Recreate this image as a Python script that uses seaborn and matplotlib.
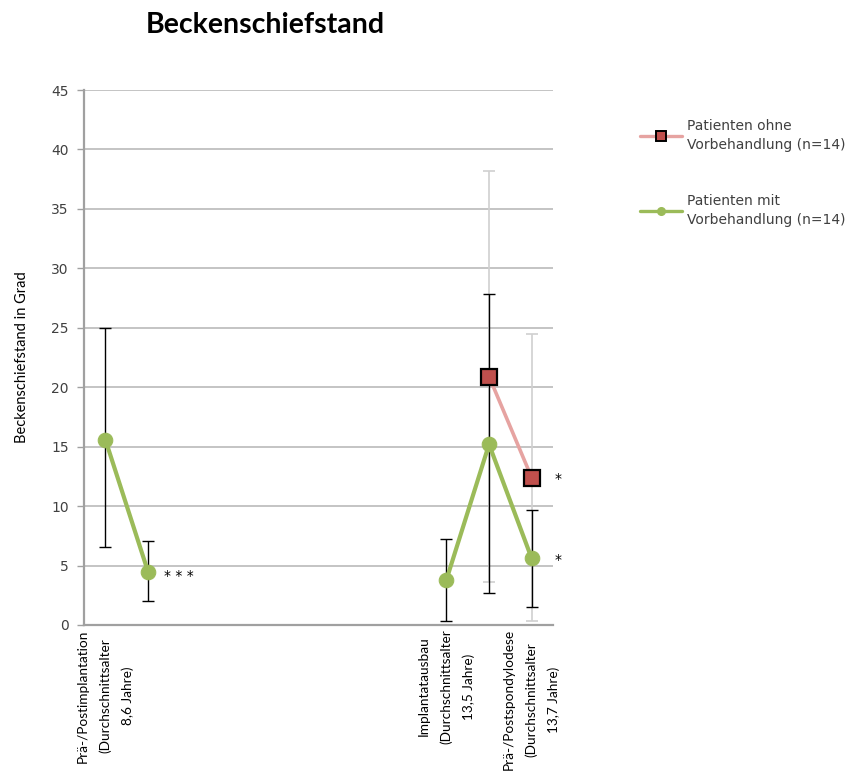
import matplotlib
matplotlib.use("Agg")
import matplotlib.pyplot as plt
from matplotlib.lines import Line2D
import numpy as np
import pandas as pd
import seaborn as sns

# Category slots along the x axis (11 slots, only three labelled)
n_slots = 11
tick_positions = [0, 8, 10]
tick_labels = [
    "Prä-/Postimplantation\n(Durchschnittsalter\n8,6 Jahre)",
    "Implantatausbau\n(Durchschnittsalter\n13,5 Jahre)",
    "Prä-/Postspondylodese\n(Durchschnittsalter\n13,7 Jahre)",
]

# Patienten mit Vorbehandlung
mit_x = [0, 1, 8, 9, 10]
mit_segment = [0, 0, 1, 1, 1]
mit_mean = [15.6, 4.5, 3.8, 15.2, 5.6]
mit_low = [6.6, 2.0, 0.35, 2.7, 1.55]
mit_high = [25.0, 7.1, 7.2, 27.8, 9.7]

# Patienten ohne Vorbehandlung
ohne_x = [9, 10]
ohne_segment = [0, 0]
ohne_mean = [20.9, 12.4]
ohne_low = [3.6, 0.3]
ohne_high = [38.2, 24.5]

# Significance markers: (x, y, text)
sig_marks = [(1, 4.5, "* * *"), (10, 12.4, "*"), (10, 5.6, "*")]
sig_offsets = [(11.5, -3.5), (16.5, -1), (16.5, -1)]

green = "#9BBB59"
red_line = "#E6A3A1"
red_fill = "#C0504D"
grid_col = "#BFBFBF"
text_col = "#404040"
narrow = ["Lato", "DejaVu Sans"]

sns.set_style("white")
plt.rcParams["font.family"] = ["DejaVu Sans"]

fig = plt.figure(figsize=(8.59, 7.73), dpi=100)
ax = fig.add_axes([84 / 859, 1 - 625 / 773, (553 - 84) / 859, (625 - 90) / 773])

mit_df = pd.DataFrame({"x": mit_x, "value": mit_mean, "segment": mit_segment})
ohne_df = pd.DataFrame({"x": ohne_x, "value": ohne_mean, "segment": ohne_segment})

# error bars: light grey for the untreated group, black for the treated group
ohne_m = np.array(ohne_mean)
ax.errorbar(ohne_x, ohne_m,
            yerr=[ohne_m - np.array(ohne_low), np.array(ohne_high) - ohne_m],
            fmt="none", ecolor="#D0D0D0", elinewidth=1.2, capsize=4.5,
            capthick=1.2, zorder=2)
mit_m = np.array(mit_mean)
ax.errorbar(mit_x, mit_m,
            yerr=[mit_m - np.array(mit_low), np.array(mit_high) - mit_m],
            fmt="none", ecolor="black", elinewidth=1.0, capsize=4.5,
            capthick=1.0, zorder=3)

sns.lineplot(data=ohne_df, x="x", y="value", units="segment", estimator=None,
             sort=False, color=red_line, lw=2.6, marker="s", markersize=11,
             markerfacecolor=red_fill, markeredgecolor="black",
             markeredgewidth=1.6, ax=ax, zorder=5, legend=False)
sns.lineplot(data=mit_df, x="x", y="value", units="segment", estimator=None,
             sort=False, color=green, lw=3.0, marker="o", markersize=10.5,
             markerfacecolor=green, markeredgecolor=green, ax=ax, zorder=6,
             legend=False)

for (x, y, s), off in zip(sig_marks, sig_offsets):
    ax.annotate(s, (x, y), xytext=off, textcoords="offset points",
                ha="left", va="center", fontsize=10, color="black")

ax.set_xlim(-0.5, n_slots - 0.5)
ax.set_ylim(0, 45)
ax.set_yticks(np.arange(0, 46, 5))
ax.yaxis.grid(True, color=grid_col, lw=1.3)
ax.xaxis.grid(False)
ax.set_axisbelow(True)
ax.tick_params(axis="y", direction="out", length=5, width=1, color="#A0A0A0",
               labelsize=10, labelcolor=text_col, pad=6, left=True)
ax.tick_params(axis="x", length=0, pad=3)
ax.set_xticks(tick_positions)
ax.set_xticklabels(tick_labels, rotation=90, ha="center", va="top",
                   multialignment="center", linespacing=1.95,
                   family=narrow, fontsize=9.8, color="black")
for side in ["top", "right"]:
    ax.spines[side].set_visible(False)
for side in ["left", "bottom"]:
    ax.spines[side].set_color("#A0A0A0")
    ax.spines[side].set_linewidth(1.6)

ax.set_xlabel("")
ax.set_ylabel("Beckenschiefstand in Grad", fontsize=10.5, color="black",
              family=narrow, labelpad=16)

fig.text(265 / 859, 1 - 25 / 773, "Beckenschiefstand", ha="center",
         va="center", fontsize=20.5, fontweight="bold",
         family=["Lato", "DejaVu Sans"], color="black")

handles = [
    Line2D([], [], color=red_line, lw=2.4, marker="s", markersize=7.5,
           markerfacecolor=red_fill, markeredgecolor="black",
           markeredgewidth=1.4),
    Line2D([], [], color=green, lw=2.4, marker="o", markersize=5.5,
           markerfacecolor=green, markeredgecolor=green),
]
labels = ["Patienten ohne\nVorbehandlung (n=14)",
          "Patienten mit\nVorbehandlung (n=14)"]
leg = fig.legend(handles, labels, loc="upper left",
                 bbox_to_anchor=(640 / 859, 1 - 119 / 773), frameon=False,
                 fontsize=10, handlelength=3.0, handletextpad=0.4,
                 labelspacing=3.0, borderaxespad=0, borderpad=0,
                 labelcolor=text_col)
for t in leg.get_texts():
    t.set_linespacing(1.45)

fig.savefig("out.png", dpi=100)
